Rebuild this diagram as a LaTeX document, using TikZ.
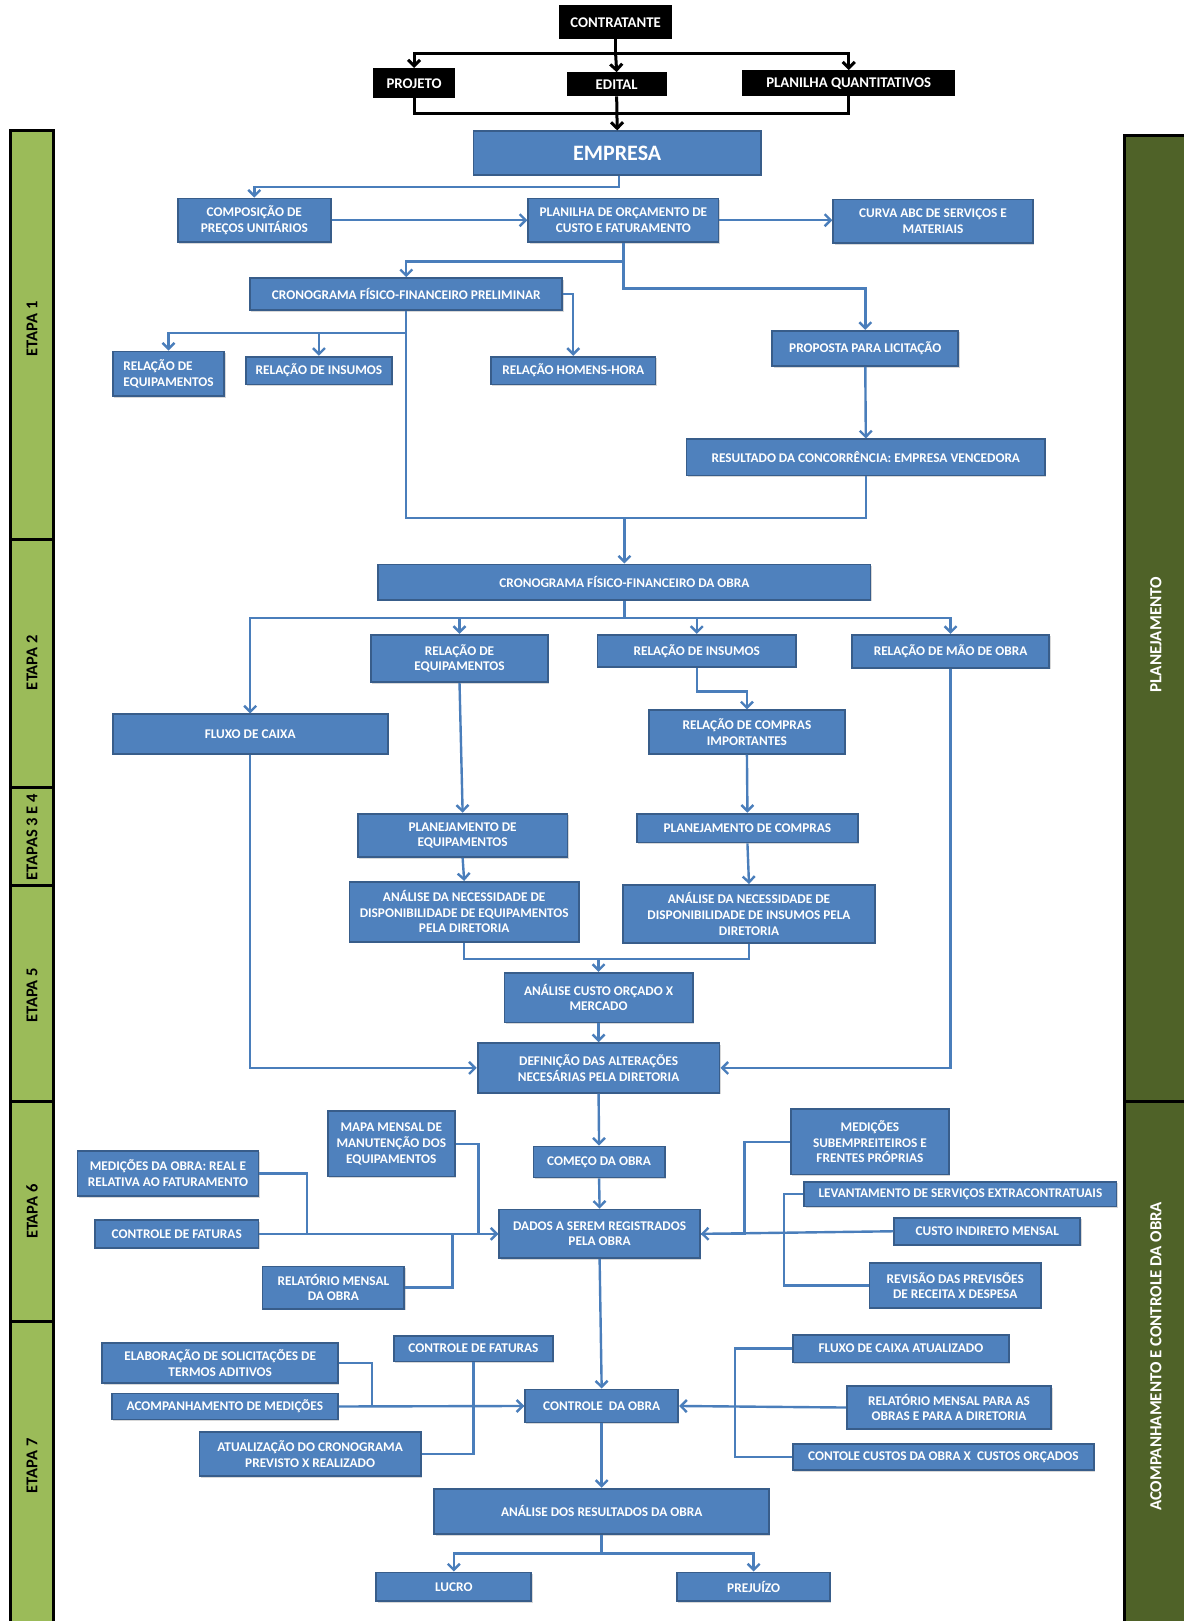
\documentclass[tikz,border=0pt]{standalone}
\usepackage{fontspec}
\setmainfont{Carlito}
\usetikzlibrary{arrows.meta,shadows}
\definecolor{bfill}{HTML}{4F81BD}
\definecolor{bdraw}{HTML}{385D8A}
\definecolor{bline}{HTML}{4A7EBB}
\definecolor{gfill}{HTML}{9BBB59}
\definecolor{ofill}{HTML}{4F6228}
\newcommand\B[7][]{\node[bx,#1,minimum width={(#5-#3)*1.034pt},minimum height={(#6-#4)*1.034pt}] (#2) at ({(#3+#5)/2},{(#4+#6)/2}) {#7};}
\newcommand\K[6]{\node[kb,minimum width={(#4-#2)*1.034pt},minimum height={(#5-#3)*1.034pt}] (#1) at ({(#2+#4)/2},{(#3+#5)/2}) {#6};}
\begin{document}
\begin{tikzpicture}[x=1.034pt,y=-1.034pt,
  bx/.style={draw=bdraw, fill=bfill, line width=1.8pt, inner sep=0pt, text=white,
    font=\bfseries\fontsize{13.3}{15.6}\selectfont, align=center,
    drop shadow={shadow xshift=1.3pt, shadow yshift=-1.6pt, opacity=0.3}},
  kb/.style={fill=black, inner sep=0pt, text=white, font=\bfseries\fontsize{14.8}{17}\selectfont},
  ar/.style={draw=bline, line width=2.4pt, -{Straight Barb[length=6pt,width=12pt]}},
  ln/.style={draw=bline, line width=2.4pt},
  kar/.style={draw=black, line width=3pt, -{Straight Barb[length=6pt,width=12pt]}},
  kln/.style={draw=black, line width=3pt},
  stg/.style={draw=black, fill=gfill, line width=3pt},
  ol/.style={draw=black, fill=ofill, line width=3pt},
  stl/.style={rotate=90, font=\bfseries\fontsize{16.5}{19}\selectfont, text=black},
  orl/.style={rotate=90, font=\bfseries\fontsize{17}{20}\selectfont, text=white}
]
\useasboundingbox (0,0) rectangle (1145,1568);
\fill[white] (0,0) rectangle (1145,1568);

% stage bars
\draw[stg] (10,126) rectangle (52,522);
\draw[stg] (10,522) rectangle (52,762);
\draw[stg] (10,762) rectangle (52,857);
\draw[stg] (10,857) rectangle (52,1065);
\draw[stg] (10,1065) rectangle (52,1278);
\draw[stg] (10,1278) rectangle (52,1580);
\node[stl] (e1) at (31,318) {ETAPA 1};
\node[stl] (e2) at (31,641) {ETAPA 2};
\node[stl] (e34) at (31,810) {ETAPAS 3 E 4};
\node[stl] (e5) at (31,963) {ETAPA 5};
\node[stl] (e6) at (31,1172) {ETAPA 6};
\node[stl] (e7) at (31,1418) {ETAPA 7};
\draw[ol] (1088,131) rectangle (1160,1065);
\draw[ol] (1088,1065) rectangle (1160,1580);
\node[orl] (pl) at (1118,614) {PLANEJAMENTO};
\node[orl, font=\bfseries\fontsize{16.9}{20}\selectfont] (ac) at (1118,1312) {ACOMPANHAMENTO E CONTROLE DA OBRA};

% black boxes
\K{contr}{541}{5}{650}{38}{CONTRATANTE}
\K{proj}{361}{66}{440}{95}{PROJETO}
\K{edital}{548}{70}{645}{93}{EDITAL}
\K{plq}{718}{68}{924}{93}{PLANILHA QUANTITATIVOS}

% blue boxes
\B[font=\bfseries\fontsize{22}{26}\selectfont]{emp}{458}{127}{736}{169}{EMPRESA}
\B{comp}{172}{192}{320}{234}{COMPOSIÇÃO DE\\PREÇOS UNITÁRIOS}
\B{plan}{511}{192}{695}{234}{PLANILHA DE ORÇAMENTO DE\\CUSTO E FATURAMENTO}
\B{curva}{806}{193}{999}{235}{CURVA ABC DE SERVIÇOS E\\MATERIAIS}
\B{cpre}{242}{269}{544}{300}{CRONOGRAMA FÍSICO-FINANCEIRO PRELIMINAR}
\B[align=left]{req1}{109}{340}{217}{383}{RELAÇÃO DE\\EQUIPAMENTOS}
\B{rins1}{238}{345}{379}{372}{RELAÇÃO DE INSUMOS}
\B{homens}{475}{345}{634}{372}{RELAÇÃO HOMENS-HORA}
\B{prop}{747}{320}{927}{354}{PROPOSTA PARA LICITAÇÃO}
\B{res}{664}{425}{1011}{460}{RESULTADO DA CONCORRÊNCIA: EMPRESA VENCEDORA}
\B{cobra}{366}{546}{842}{580}{CRONOGRAMA FÍSICO-FINANCEIRO DA OBRA}
\B{req2}{359}{614}{530}{660}{RELAÇÃO DE\\EQUIPAMENTOS}
\B{rins2}{578}{614}{770}{645}{RELAÇÃO DE INSUMOS}
\B{rmao}{824}{614}{1015}{646}{RELAÇÃO DE MÃO DE OBRA}
\B{fluxo}{109}{691}{375}{729}{FLUXO DE CAIXA}
\B{rcomp}{628}{687}{817}{729}{RELAÇÃO DE COMPRAS\\IMPORTANTES}
\B{planc}{616}{787}{830}{815}{PLANEJAMENTO DE COMPRAS}
\B{plane}{346}{787}{549}{829}{PLANEJAMENTO DE\\EQUIPAMENTOS}
\B{aneq}{338}{853}{560}{911}{ANÁLISE DA NECESSIDADE DE\\DISPONIBILIDADE DE EQUIPAMENTOS\\PELA DIRETORIA}
\B{anins}{603}{856}{846}{912}{ANÁLISE DA NECESSIDADE DE\\DISPONIBILIDADE DE INSUMOS PELA\\DIRETORIA}
\B{custo}{488}{941}{670}{989}{ANÁLISE CUSTO ORÇADO X\\MERCADO}
\B{defin}{462}{1009}{696}{1057}{DEFINIÇÃO DAS ALTERAÇÕES\\NECESÁRIAS PELA DIRETORIA}
\B{comeco}{516}{1109}{643}{1139}{COMEÇO DA OBRA}
\B{dados}{483}{1170}{677}{1217}{DADOS A SEREM REGISTRADOS\\PELA OBRA}
\B{med1}{75}{1113}{250}{1157}{MEDIÇÕES DA OBRA: REAL E\\RELATIVA AO FATURAMENTO}
\B{cfat1}{92}{1180}{250}{1207}{CONTROLE DE FATURAS}
\B{mapa}{317}{1075}{440}{1138}{MAPA MENSAL DE\\MANUTENÇÃO DOS\\EQUIPAMENTOS}
\B{rel1}{254}{1225}{391}{1266}{RELATÓRIO MENSAL\\DA OBRA}
\B{medsub}{765}{1073}{918}{1136}{MEDIÇÕES\\SUBEMPREITEIROS E\\FRENTES PRÓPRIAS}
\B{levant}{778}{1143}{1080}{1167}{LEVANTAMENTO DE SERVIÇOS EXTRACONTRATUAIS}
\B{cind}{865}{1178}{1045}{1204}{CUSTO INDIRETO MENSAL}
\B{revis}{841}{1222}{1007}{1265}{REVISÃO DAS PREVISÕES\\DE RECEITA X DESPESA}
\B{ctrl}{508}{1344}{656}{1376}{CONTROLE\ \ DA OBRA}
\B{elab}{99}{1299}{327}{1338}{ELABORAÇÃO DE SOLICITAÇÕES DE\\TERMOS ADITIVOS}
\B{acomp}{108}{1348}{327}{1373}{ACOMPANHAMENTO DE MEDIÇÕES}
\B{cfat2}{381}{1292}{535}{1317}{CONTROLE DE FATURAS}
\B{atual}{193}{1385}{407}{1428}{ATUALIZAÇÃO DO CRONOGRAMA\\PREVISTO X REALIZADO}
\B{fca}{767}{1291}{976}{1318}{FLUXO DE CAIXA ATUALIZADO}
\B{rmo}{819}{1341}{1017}{1382}{RELATÓRIO MENSAL PARA AS\\OBRAS E PARA A DIRETORIA}
\B{ccus}{767}{1397}{1058}{1422}{CONTOLE CUSTOS DA OBRA X\ \ CUSTOS ORÇADOS}
\B{anres}{420}{1440}{744}{1484}{ANÁLISE DOS RESULTADOS DA OBRA}
\B{lucro}{364}{1521}{514}{1549}{LUCRO}
\B{prej}{655}{1521}{803}{1549}{PREJUÍZO}

% black connectors
\draw[kln] (contr.south) -- ++(0,14) coordinate (j0);
\draw[kar] (j0) -| (proj.north);
\draw[kar] (j0) -| (plq.north);
\draw[kar] (j0) -- (edital.north);
\draw[kln] (proj.south) -- ++(0,15) -| (plq.south);
\draw[kar] (edital.south) -- (emp.north);

% blue connectors - etapa 1
\draw[ar] ([xshift=2pt]emp.south) -- ++(0,11) -| (comp.north);
\draw[ar] (comp.east) -- (plan.west |- comp.east);
\draw[ar] (plan.east) -- (curva.west |- plan.east);
\draw[ar] (plan.south) -- ++(0,18) -| (cpre.north);
\draw[ar] (plan.south) -- ++(0,44) -| (prop.north);
\draw[ar] (cpre.east) -| (homens.north);
\draw[ar] (cpre.south) -- ++(0,21) coordinate (j1) -| (req1.north);
\draw[ar] (j1) -| (rins1.north);
\draw[ln] (j1) -- ++(0,179) coordinate (j2) -| (res.south);
\draw[ar] (prop.south) -- (res.north);
\draw[ar] (cobra.north |- j2) -- (cobra.north);

% etapa 2-5
\draw[ln] (cobra.south) -- ++(0,17) coordinate (j3);
\draw[ar] (j3) -| (fluxo.north);
\draw[ar] (j3) -| (req2.north);
\draw[ar] (j3) -| (rins2.north);
\draw[ar] (j3) -| (rmao.north);
\draw[ar] (rins2.south) -- ++(0,23) -| (rcomp.north);
\draw[ar] (rcomp.south) -- (planc.north);
\draw[ar] (planc.south) -- (anins.north);
\draw[ar] (req2.south) -- (plane.north);
\draw[ar] (plane.south) -- (aneq.north);
\draw[ln] (aneq.south) -- ++(0,16) coordinate (j5) -| (anins.south);
\draw[ar] (custo.north |- j5) -- (custo.north);
\draw[ar] (custo.south) -- (defin.north);
\draw[ar] (fluxo.south) |- (defin.west);
\draw[ar] (rmao.south) |- (defin.east);
\draw[ar] (defin.south) -- (comeco.north);
\draw[ar] (comeco.south) -- (dados.north);

% etapa 6
\draw[ln] (med1.east) -- ++(46,0) |- (dados.west);
\draw[ln] (mapa.east) -- ++(22,0) |- (dados.west);
\draw[ln] (rel1.east) -- ++(46,0) |- (dados.west);
\draw[ar] (cfat1.east) -- (dados.west);
\draw[ln] (medsub.west) -- ++(-44,0) |- (dados.east);
\draw[ln] (levant.west) -- ++(-19,0) |- (revis.west);
\draw[ar] (cind.west) -- (dados.east);
\draw[ar] (dados.south) -- (ctrl.north);

% etapa 7
\draw[ln] (elab.east) -- ++(32,0) |- (ctrl.west);
\draw[ln] (cfat2.south) |- (atual.east);
\draw[ar] (acomp.east) -- (ctrl.west);
\draw[ln] (fca.west) -- ++(-55,0) |- (ccus.west);
\draw[ar] (rmo.west) -- (ctrl.east);
\draw[ar] (ctrl.south) -- (anres.north);
\draw[ln] (anres.south) -- ++(0,18) coordinate (j4);
\draw[ar] (j4) -| (lucro.north);
\draw[ar] (j4) -| (prej.north);
\end{tikzpicture}
\end{document}
